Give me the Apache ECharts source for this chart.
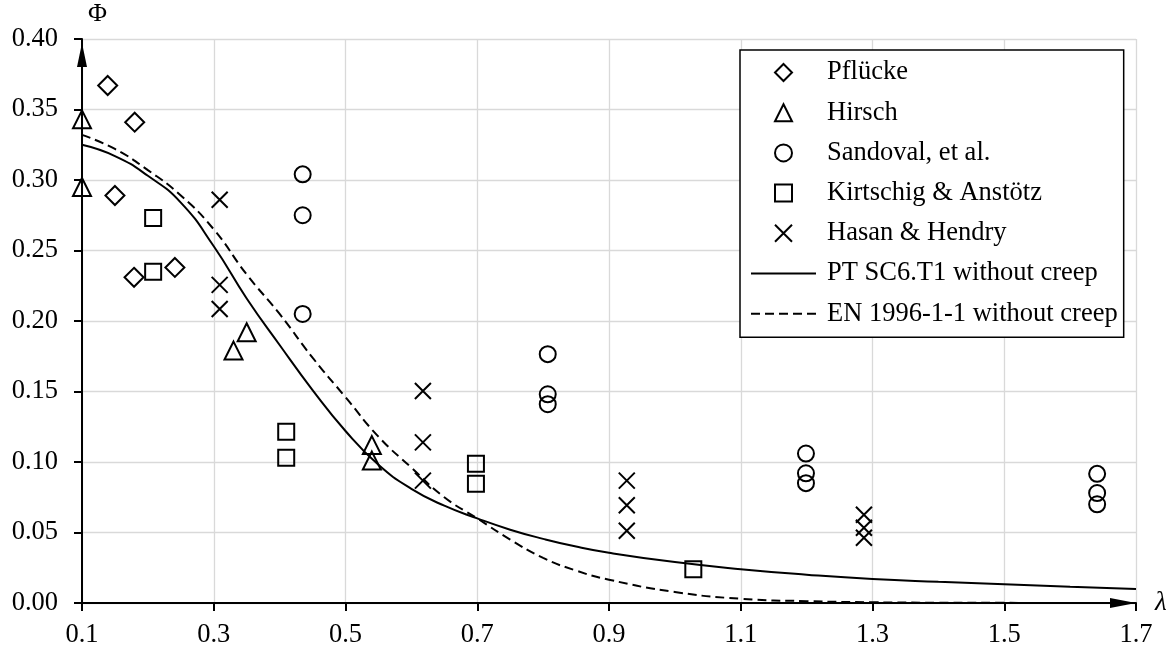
<!DOCTYPE html>
<html>
<head>
<meta charset="utf-8">
<script src="https://cdn.jsdelivr.net/npm/echarts@6/dist/echarts.min.js"></script>
<style>
  html, body { margin: 0; padding: 0; background: #ffffff; }
  #chart { width: 1173px; height: 649px; }
</style>
</head>
<body>
<div id="chart"></div>
<script>
// Test series: slenderness λ against reduction factor Φ
const pfluckeX = [0.139, 0.180, 0.150, 0.179, 0.241];
const pfluckeY = [0.367, 0.341, 0.289, 0.231, 0.238];

const hirschX = [0.100, 0.100, 0.350, 0.330, 0.540, 0.540];
const hirschY = [0.343, 0.295, 0.192, 0.179, 0.112, 0.101];

const sandovalX = [0.435, 0.435, 0.435, 0.807, 0.807, 0.807, 1.199, 1.199, 1.199, 1.641, 1.641, 1.641];
const sandovalY = [0.304, 0.275, 0.205, 0.1765, 0.148, 0.141, 0.106, 0.092, 0.085, 0.0916, 0.078, 0.070];

const kirtschigX = [0.208, 0.208, 0.410, 0.410, 0.698, 0.698, 1.028];
const kirtschigY = [0.273, 0.235, 0.1215, 0.103, 0.0987, 0.0845, 0.024];

const hasanX = [0.309, 0.309, 0.309, 0.6175, 0.6175, 0.6175, 0.927, 0.927, 0.927, 1.287, 1.287, 1.287];
const hasanY = [0.286, 0.2256, 0.2085, 0.1504, 0.1139, 0.0868, 0.0868, 0.0693, 0.0512, 0.0626, 0.0534, 0.0463];

// Design curves (without creep)
const curveX = [0.10, 0.15, 0.20, 0.25, 0.30, 0.35, 0.40, 0.45, 0.50, 0.55, 0.60, 0.65, 0.70,
                0.75, 0.80, 0.85, 0.90, 1.00, 1.10, 1.20, 1.30, 1.40, 1.50, 1.60, 1.70];
const ptY = [0.325, 0.317, 0.303, 0.284, 0.253, 0.216, 0.183, 0.151, 0.122, 0.098, 0.081, 0.069, 0.060,
             0.052, 0.0455, 0.040, 0.0356, 0.0290, 0.0240, 0.0201, 0.0170, 0.0150, 0.0133, 0.0115, 0.0100];
const enY = [0.332, 0.322, 0.307, 0.289, 0.265, 0.233, 0.205, 0.174, 0.146, 0.118, 0.096, 0.075, 0.060,
             0.045, 0.032, 0.023, 0.0165, 0.0078, 0.0030, 0.0013, 0.0005, 0.0002, 0.0001, 0.0, 0.0];

const seriesNames = ['Pflücke', 'Hirsch', 'Sandoval, et al.', 'Kirtschig & Anstötz', 'Hasan & Hendry',
                     'PT SC6.T1 without creep', 'EN 1996-1-1 without creep'];

const X_TICKS = { min: 0.1, max: 1.7, step: 0.2 };
const Y_TICKS = { min: 0, max: 0.4, step: 0.05 };

const SERIF = '"Liberation Serif", "Times New Roman", serif';

function zip(xs, ys) { return xs.map((x, i) => [x, ys[i]]); }

const symbols = {
  diamond: 'path://M5,0L10,5L5,10L0,5Z',
  triangle: 'path://M5,0L10,10L0,10Z',
  square: 'path://M0,0L10,0L10,10L0,10Z',
  cross: 'path://M0,0L10,10M10,0L0,10',
  circle: 'circle'
};

const markerStyle = { color: 'rgba(0,0,0,0)', borderColor: '#000', borderWidth: 2, opacity: 1 };

function scatter(name, xs, ys, symbol, size) {
  return {
    name: name, type: 'scatter', data: zip(xs, ys),
    symbol: symbol, symbolSize: size, symbolKeepAspect: true,
    itemStyle: markerStyle, z: 5,
    emphasis: { disabled: true }
  };
}

function curve(name, ys, dash) {
  return {
    name: name, type: 'line', data: zip(curveX, ys),
    symbol: 'none', smooth: true,
    lineStyle: { color: '#000', width: 2, type: dash },
    itemStyle: { color: '#000' }, z: 3,
    emphasis: { disabled: true }
  };
}

// Legend entries: markers for test series, plain line samples for the curves
const legendData = seriesNames.map((n, i) => i < 5 ? { name: n } : {
  name: n,
  itemStyle: { color: 'rgba(0,0,0,0)', borderWidth: 0, opacity: 0 }
});

const chart = echarts.init(document.getElementById('chart'), null, { renderer: 'canvas' });

chart.setOption({
  animation: false,
  backgroundColor: '#ffffff',
  textStyle: { fontFamily: SERIF, color: '#000' },
  grid: { left: 82, right: 37, top: 39, bottom: 46, containLabel: false },
  xAxis: {
    type: 'value',
    min: X_TICKS.min, max: X_TICKS.max, interval: X_TICKS.step,
    name: 'λ', nameLocation: 'end', nameGap: 19,
    nameTextStyle: { fontFamily: SERIF, fontStyle: 'italic', fontSize: 27, color: '#000' },
    axisLine: { show: true, onZero: false, lineStyle: { color: '#000', width: 2 },
                symbol: ['none', 'triangle'], symbolSize: [10, 26], symbolOffset: [0, -13] },
    axisTick: { show: true, inside: false, length: 8, lineStyle: { color: '#000', width: 2 } },
    axisLabel: { margin: 19, fontFamily: SERIF, fontSize: 26.5, color: '#000',
                 formatter: v => v.toFixed(1) },
    splitLine: { show: true, lineStyle: { color: '#d9d9d9', width: 1.3 } }
  },
  yAxis: {
    type: 'value',
    min: Y_TICKS.min, max: Y_TICKS.max, interval: Y_TICKS.step,
    axisLine: { show: true, onZero: false, lineStyle: { color: '#000', width: 2 },
                symbol: ['none', 'triangle'], symbolSize: [10, 24], symbolOffset: [0, -16] },
    axisTick: { show: true, inside: false, length: 8, lineStyle: { color: '#000', width: 2 } },
    axisLabel: { margin: 24, fontFamily: SERIF, fontSize: 26.5, color: '#000',
                 formatter: v => v.toFixed(2) },
    splitLine: { show: true, lineStyle: { color: '#d9d9d9', width: 1.3 } }
  },
  legend: {
    orient: 'vertical', left: 740, top: 50,
    padding: [9, 6, 10, 10],
    itemWidth: 65, itemHeight: 17, itemGap: 13.2,
    borderColor: '#000', borderWidth: 1.5, backgroundColor: '#fff',
    selectedMode: false,
    textStyle: { fontFamily: SERIF, fontSize: 26.5, lineHeight: 26, color: '#000', padding: [0, 0, 0, 6] },
    data: legendData
  },
  graphic: [{
    type: 'text', left: 88, top: 1,
    style: { text: 'Φ', font: '26px ' + SERIF, fill: '#000' }
  }],
  series: [
    curve(seriesNames[5], ptY, 'solid'),
    curve(seriesNames[6], enY, [9, 5]),
    scatter(seriesNames[0], pfluckeX, pfluckeY, symbols.diamond, 19),
    scatter(seriesNames[1], hirschX, hirschY, symbols.triangle, 18),
    scatter(seriesNames[2], sandovalX, sandovalY, symbols.circle, 16),
    scatter(seriesNames[3], kirtschigX, kirtschigY, symbols.square, 16),
    scatter(seriesNames[4], hasanX, hasanY, symbols.cross, 16)
  ]
});
</script>
</body>
</html>
